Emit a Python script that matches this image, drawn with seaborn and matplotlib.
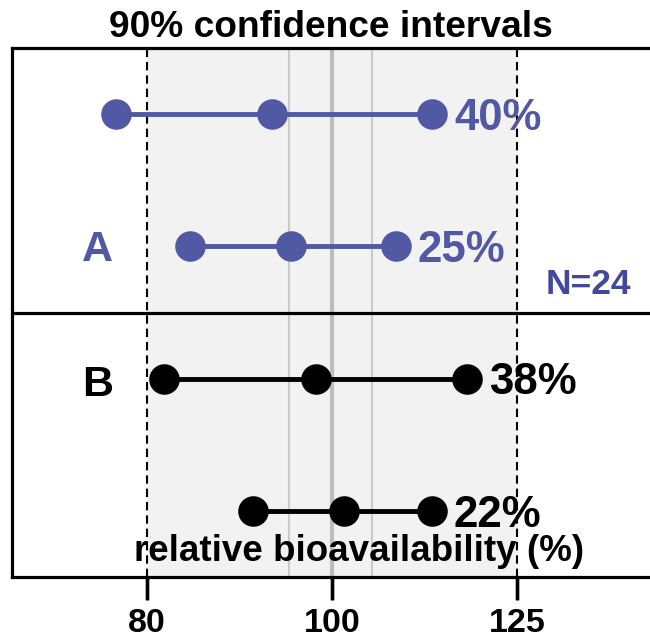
import numpy as np
import pandas as pd
import seaborn as sns
import matplotlib.pyplot as plt

# 90% CI per formulation row (lower, point estimate, upper), relative bioavailability in %
rows = [0, 1, 2, 3]
lower = [77.1, 84.3, 81.7, 90.9]
point = [93.0, 95.2, 98.1, 101.5]
upper = [112.8, 108.0, 117.7, 112.8]
widths = ['40%', '25%', '38%', '22%']
groups = ['A', 'A', 'B', 'B']

ticks = [80, 100, 125]
ref_lines = [95, 100, 105]

BLUE = '#5159A4'
NAVY = '#42489C'
colors = {'A': BLUE, 'B': 'black'}

df = pd.DataFrame({
    'row': np.repeat(rows, 3),
    'ratio': np.ravel(np.column_stack([lower, point, upper])),
    'group': np.repeat(groups, 3),
})

sns.set_style('ticks')
plt.rcParams.update({'font.family': ['Liberation Sans', 'DejaVu Sans'],
                     'font.weight': 'bold', 'text.color': 'black'})

fig = plt.figure(figsize=(6.5, 6.39), dpi=100)
rect = [12 / 650, 62 / 639, 667 / 650, 529 / 639]
ax = fig.add_axes(rect)

ax.set_xscale('log')
ax.set_xlim(68, 152)
ax.set_ylim(3.5, -0.5)
ax.set_xticks(ticks)
ax.minorticks_off()
ax.tick_params(axis='x', length=16.5, width=2.4, color='black', bottom=True,
               pad=6, labelsize=24.5, labelcolor='black')
ax.set_yticks([])

# acceptance band and reference lines
ax.axvspan(ticks[0], ticks[-1], color='#F2F2F2', zorder=0)
for v in ref_lines:
    ax.axvline(v, color='#BDBDBD' if v == 100 else '#CACACA',
               lw=3 if v == 100 else 1.5, zorder=1)
for v in (ticks[0], ticks[-1]):
    ax.axvline(v, color='black', lw=1.5, ls=(0, (4, 2.4)), zorder=1)
ax.axhline(1.5, color='black', lw=2.3, zorder=2)

for r in rows:
    sub = df[df['row'] == r]
    c = colors[sub['group'].iloc[0]]
    sns.lineplot(data=sub, x='ratio', y='row', orient='y', estimator=None,
                 color=c, lw=3.5, marker='o', markersize=22,
                 markeredgewidth=0, ax=ax, zorder=3)
    ax.annotate(widths[r], xy=(upper[r], r), xytext=(16, -3),
                textcoords='offset points', ha='left', va='center',
                fontsize=31.5, fontweight='bold', color=c)

tr = ax.get_yaxis_transform()
ax.text(0.128, 1.03, 'A', transform=tr, ha='center', va='center',
        fontsize=31, fontweight='bold', color=BLUE)
ax.text(0.128, 2.05, 'B', transform=tr, ha='center', va='center',
        fontsize=31, fontweight='bold', color='black')
ax.text(0.864, 1.29, 'N=24', transform=tr, ha='center', va='center',
        fontsize=25.5, fontweight='bold', color=NAVY)
ax.text(0.52, 3.379, 'relative bioavailability (%)', transform=tr,
        ha='center', va='baseline', fontsize=26.5, fontweight='bold')

fig.text(331 / 650, 1 - 37 / 639, '90% confidence intervals', ha='center',
         va='baseline', fontsize=26.7, fontweight='bold')

ax.set_xticklabels([str(t) for t in ticks], fontweight='bold')
ax.set_xlabel('')
ax.set_ylabel('')
for s in ax.spines.values():
    s.set_linewidth(2.3)
    s.set_edgecolor('black')

# tick marks in a thin strip just under the frame, sharing the log x scale
tick_h = 23 / 639
tax = fig.add_axes([rect[0], rect[1] - tick_h, rect[2], tick_h], zorder=10)
tax.set_xscale('log')
tax.set_xlim(ax.get_xlim())
tax.set_ylim(0, 1)
tax.vlines(ticks, 0, 1, colors='black', lw=2.4)
tax.axis('off')

fig.savefig('out.png', dpi=100)
